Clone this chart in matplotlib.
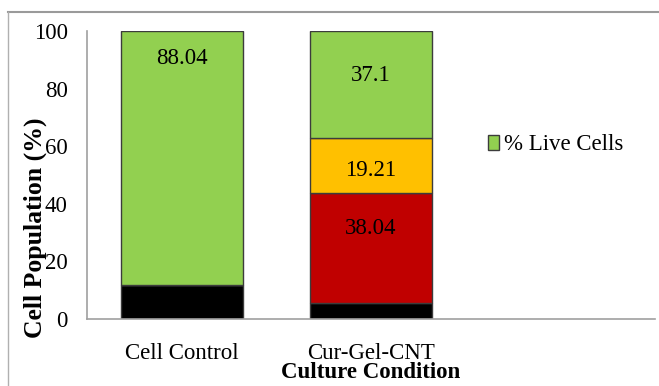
import matplotlib
matplotlib.use("Agg")
import matplotlib.pyplot as plt
from matplotlib.lines import Line2D
from matplotlib.patches import Patch

plt.rcParams['font.family'] = ['Liberation Serif', 'DejaVu Serif']

categories = ["Cell Control", "Cur-Gel-CNT"]
dead = [11.96, 5.65]
late_apoptotic = [0, 38.04]
early_apoptotic = [0, 19.21]
live = [88.04, 37.1]
live_label_y = [90.3, 84.4]
early_label_y = [None, 51.4]
late_label_y = [None, 31.3]

colors = {"dead": "#000000", "late": "#C00000", "early": "#FFC000", "live": "#92D050"}

fig = plt.figure(figsize=(6.59, 3.86), dpi=100)
ax = fig.add_axes([87 / 659, 1 - 319 / 386, (655 - 87) / 659, (319 - 31) / 386])

x = list(range(len(categories)))
w = 0.645
edge = "#3c3c3c"
b0 = [0] * len(x)
ax.bar(x, dead, w, bottom=b0, color=colors["dead"], edgecolor=edge, linewidth=1)
b1 = [a + b for a, b in zip(b0, dead)]
ax.bar(x, late_apoptotic, w, bottom=b1, color=colors["late"], edgecolor=edge, linewidth=1)
b2 = [a + b for a, b in zip(b1, late_apoptotic)]
ax.bar(x, early_apoptotic, w, bottom=b2, color=colors["early"], edgecolor=edge, linewidth=1)
b3 = [a + b for a, b in zip(b2, early_apoptotic)]
ax.bar(x, live, w, bottom=b3, color=colors["live"], edgecolor=edge, linewidth=1)

fs = 16.5
for i in range(2):
    ax.text(x[i], live_label_y[i], f"{live[i]:g}", ha="center", va="center", fontsize=fs)
ax.text(x[1], early_label_y[1], f"{early_apoptotic[1]:g}", ha="center", va="center", fontsize=fs)
ax.text(x[1], late_label_y[1], f"{late_apoptotic[1]:g}", ha="center", va="center", fontsize=fs)

ax.set_xlim(-0.503, 2.503)
ax.set_ylim(0, 100)
ax.set_yticks([0, 20, 40, 60, 80, 100])
ax.set_xticks(x)
ax.set_xticklabels(categories)
ax.tick_params(axis="y", length=0, pad=14, labelsize=fs)
ax.tick_params(axis="x", length=0, pad=17, labelsize=fs)
for s in ["top", "right"]:
    ax.spines[s].set_visible(False)
for s in ["left", "bottom"]:
    ax.spines[s].set_color("#a0a0a0")
    ax.spines[s].set_linewidth(1.2)

fig.text(371 / 659, 1 - 373 / 386, "Culture Condition", ha="center", va="center",
         fontsize=16.5, fontweight="bold")
fig.text(35 / 659, 1 - 228 / 386, "Cell Population (%)", ha="center", va="center",
         rotation=90, fontsize=18.5, fontweight="bold")

# outer chart frame
fig.add_artist(Line2D([8 / 659, 1.0], [1 - 12 / 386] * 2, color="#9a9a9a", lw=1.5,
                      transform=fig.transFigure))
fig.add_artist(Line2D([8 / 659] * 2, [0, 1 - 12 / 386], color="#b0b0b0", lw=1.0,
                      transform=fig.transFigure))

fig.legend(handles=[Patch(facecolor=colors["live"], edgecolor=edge, linewidth=1)],
           labels=["% Live Cells"], loc="center left",
           bbox_to_anchor=(488 / 659, 1 - 145 / 386), frameon=False, fontsize=fs,
           handlelength=0.5, handleheight=0.65, handletextpad=0.22, borderpad=0,
           borderaxespad=0)

fig.savefig("out.png", dpi=100)
